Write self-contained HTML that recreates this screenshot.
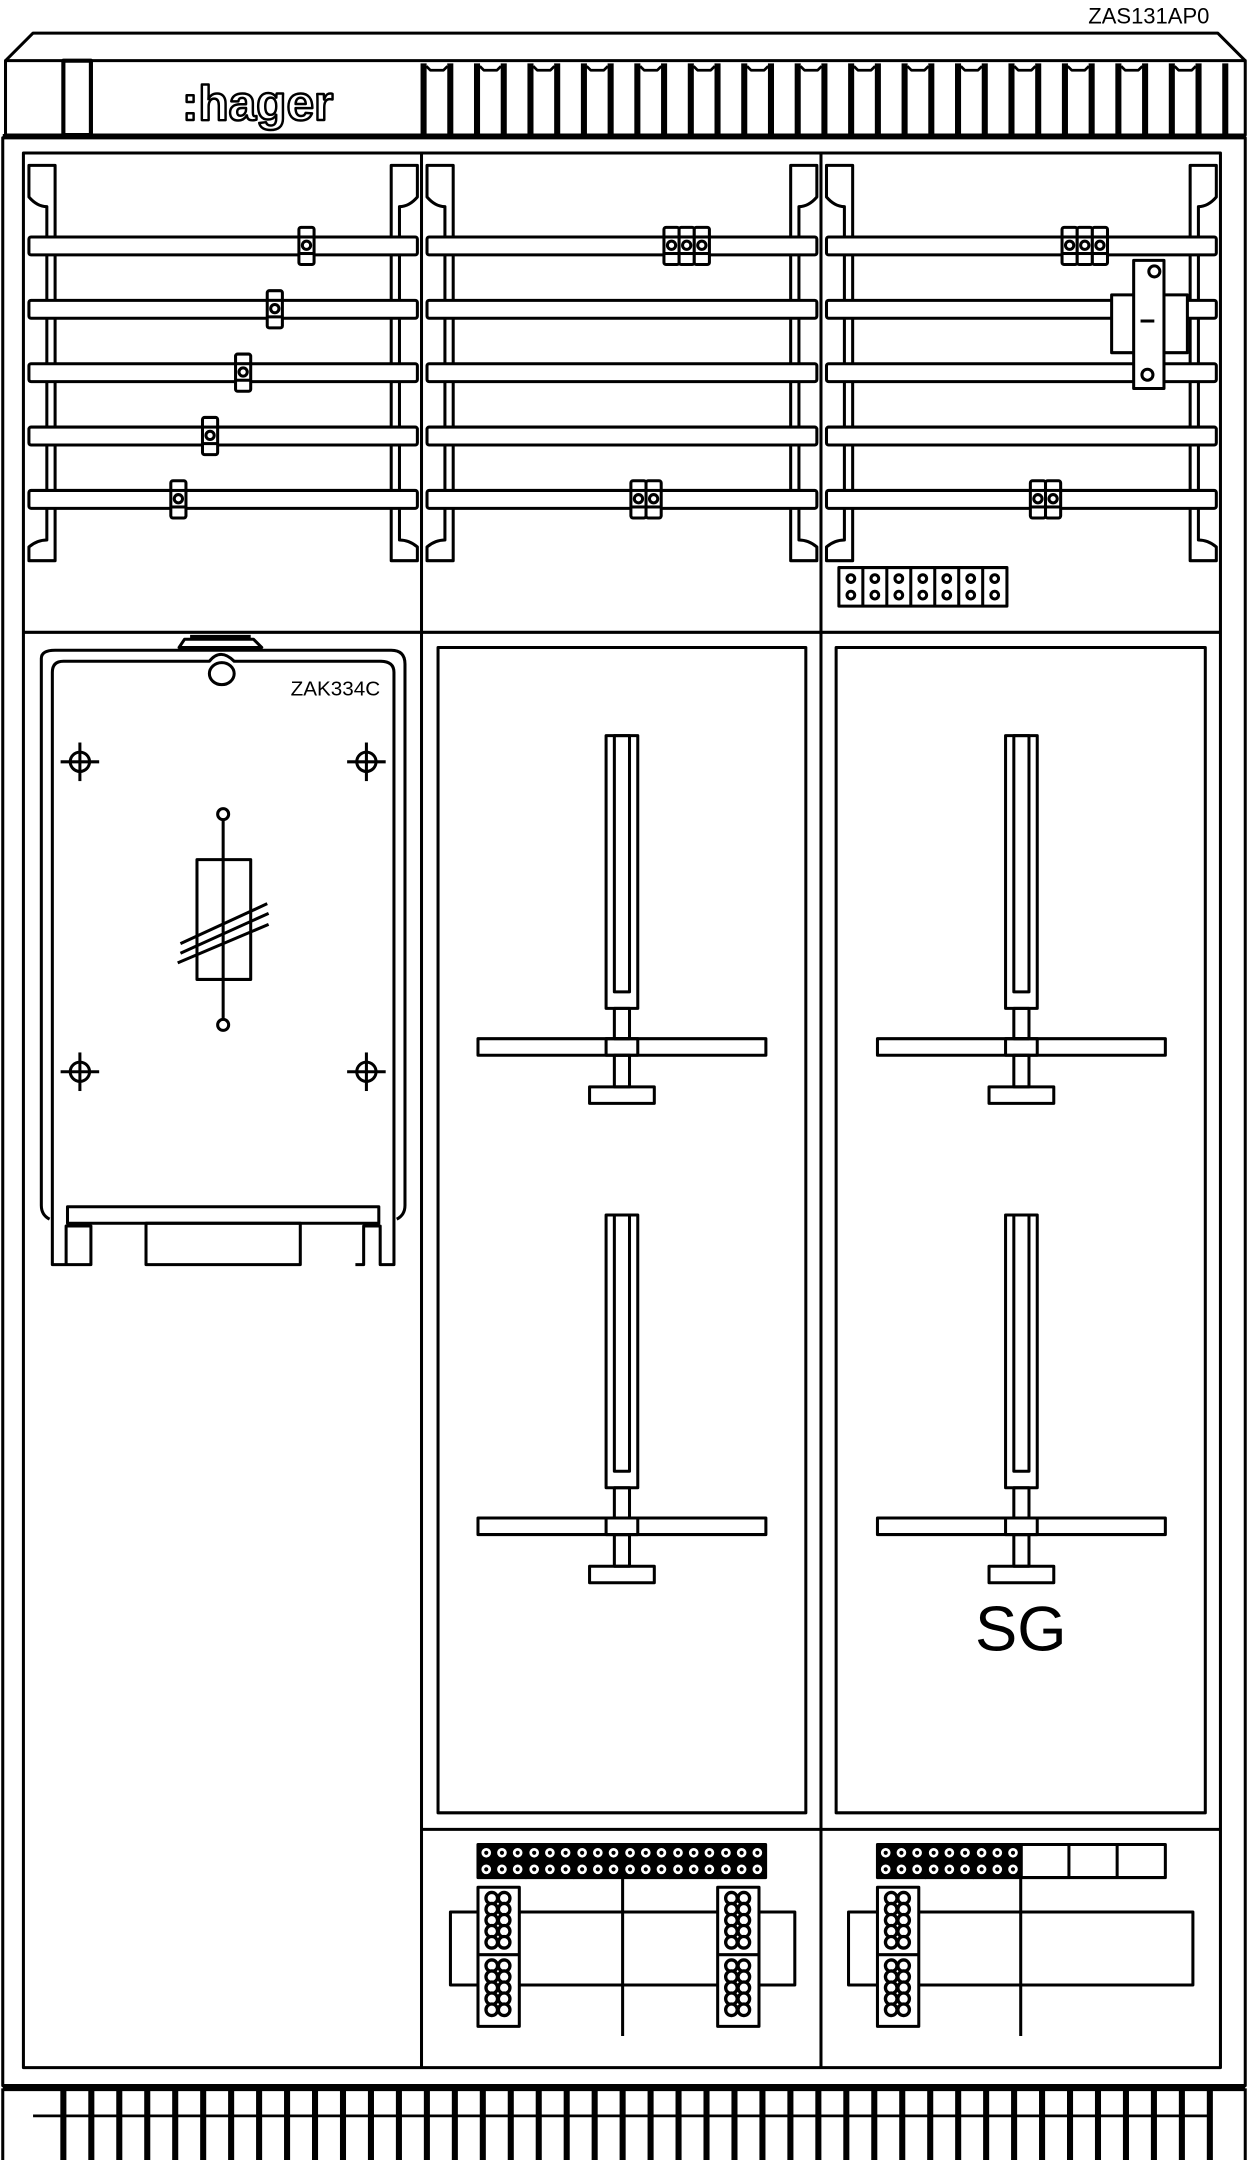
<!DOCTYPE html>
<html><head><meta charset="utf-8"><style>
html,body{margin:0;padding:0;background:#fff;}
svg{display:block;}
text{font-family:"Liberation Sans",sans-serif;}
</style></head><body>
<svg id="s" width="1248" height="2160" viewBox="0 0 906 1568" xmlns="http://www.w3.org/2000/svg" fill="none" stroke="#000" stroke-width="2.2" stroke-linejoin="round">
<text x="878" y="17" font-size="16" text-anchor="end" stroke="none" fill="#000">ZAS131AP0</text>
<path d="M4,44 L24,24 L884,24 L904,44"/>
<rect x="4" y="44" width="900" height="54"/>
<line x1="2" y1="99" x2="904" y2="99" stroke-width="3.5"/>
<rect x="46" y="44" width="20" height="54" stroke-width="3"/>
<text x="187" y="87" font-size="36" font-weight="bold" text-anchor="middle" style="fill:#fff;stroke:#000;stroke-width:1.8">:hager</text>
<g id="hb"></g>
<rect x="2" y="100" width="902" height="1414"/>
<rect x="17" y="111" width="869" height="1390"/>
<line x1="306" y1="111" x2="306" y2="1501"/>
<line x1="596" y1="111" x2="596" y2="1501"/>
<line x1="17" y1="459" x2="886" y2="459"/>
<line x1="306" y1="1328" x2="886" y2="1328"/>
<g id="rails"></g>
<rect x="807" y="214" width="55" height="42" fill="#fff"/>
<rect x="823" y="189" width="22" height="93" fill="#fff"/>
<circle cx="838" cy="197" r="4"/><circle cx="833" cy="272" r="4"/>
<line x1="828" y1="233" x2="838" y2="233"/>
<g id="ts"></g>
<path d="M30,478 Q30,472 40,472 L284,472 Q294,472 294,482 L294,875 Q294,882 288,885 M30,478 L30,875 Q30,882 36,885"/>
<path d="M38,488 Q38,480 46,480 L152,480 Q160,470 170,480 L276,480 Q286,480 286,488 L286,918 L276,918 L276,890 L264,890 L264,918 L258,918 M38,488 L38,918 L48,918 L48,890 L66,890 L66,918 L48,918"/>
<rect x="49" y="876" width="226" height="12"/>
<rect x="106" y="888" width="112" height="30"/>
<path d="M130,470 L134,464 L184,464 L190,470 Z"/>
<line x1="138" y1="462" x2="182" y2="462"/>
<ellipse cx="161" cy="489" rx="9" ry="8"/>
<text x="276" y="505" font-size="15" text-anchor="end" stroke="none" fill="#000">ZAK334C</text>
<g id="cross"></g>
<line x1="162" y1="596" x2="162" y2="740"/>
<ellipse cx="162" cy="591" rx="4" ry="4"/><ellipse cx="162" cy="744" rx="4" ry="4"/>
<rect x="143" y="624" width="39" height="87"/>
<line x1="131" y1="685" x2="194" y2="656"/>
<line x1="131" y1="692" x2="195" y2="663"/>
<line x1="129" y1="699" x2="195" y2="671"/>
<rect x="318" y="470" width="267" height="846"/>
<rect x="607" y="470" width="268" height="846"/>
<g id="meters"></g>
<text x="741" y="1198" font-size="46" text-anchor="middle" stroke="none" fill="#000">SG</text>
<g id="bottom"></g>
<line x1="2" y1="1516" x2="904" y2="1516" stroke-width="4"/>
<line x1="24" y1="1536" x2="880" y2="1536" stroke-width="2"/>
<g id="base"></g>
<line x1="2" y1="1516" x2="2" y2="1568"/><line x1="904" y1="1516" x2="904" y2="1568"/>
</svg>
<script>
const NS="http://www.w3.org/2000/svg";
function el(p,t,a){const e=document.createElementNS(NS,t);for(const k in a)e.setAttribute(k,a[k]);document.getElementById(p).appendChild(e);return e;}
let i=0;
for(let x=307.5;x<=890;x+=19.4,i++){el("hb","line",{x1:x,y1:46,x2:x,y2:98,"stroke-width":4.4});
  if(i%2==0&&x+19.4<890){el("hb","path",{d:`M${x+2},48 L${x+5},51 L${x+14.4},51 L${x+17.4},48`,"stroke-width":2});}}
const cols=[[21,303],[310,593],[600,883]];
const ry=[178,224,270,316,362];
cols.forEach(c=>{
  el("rails","path",{d:`M${c[0]},120 L${c[0]+19},120 L${c[0]+19},407 L${c[0]},407 L${c[0]},397 Q${c[0]+6},392 ${c[0]+13},392 L${c[0]+13},150 Q${c[0]+6},150 ${c[0]},143 Z`});
  el("rails","path",{d:`M${c[1]},120 L${c[1]-19},120 L${c[1]-19},407 L${c[1]},407 L${c[1]},397 Q${c[1]-6},392 ${c[1]-13},392 L${c[1]-13},150 Q${c[1]-6},150 ${c[1]},143 Z`});
  ry.forEach(y=>el("rails","rect",{x:c[0],y:y-6,width:c[1]-c[0],height:13,rx:1.5,fill:"#fff"}));
});
function clip(x,y,n){for(let i=0;i<n;i++){el("rails","rect",{x:x+i*11,y:y-13,width:11,height:27,rx:1.5,fill:"#fff"});el("rails","circle",{cx:x+i*11+5.5,cy:y,r:3});el("rails","line",{x1:x+i*11,y1:y-6,x2:x+i*11+11,y2:y-6});el("rails","line",{x1:x+i*11,y1:y+6,x2:x+i*11+11,y2:y+6});}}
clip(217,178,1);clip(194,224,1);clip(171,270,1);clip(147,316,1);clip(124,362,1);
clip(482,178,3);clip(458,362,2);clip(771,178,3);clip(748,362,2);
el("ts","rect",{x:609,y:412,width:122,height:28});
for(let i=0;i<7;i++){const x=609+i*17.4;if(i)el("ts","line",{x1:x,y1:412,x2:x,y2:440});el("ts","circle",{cx:x+8.7,cy:420,r:2.8});el("ts","circle",{cx:x+8.7,cy:432,r:2.8});}
[[58,553],[266,553],[58,778],[266,778]].forEach(p=>{el("cross","circle",{cx:p[0],cy:p[1],r:7});el("cross","line",{x1:p[0]-14,y1:p[1],x2:p[0]+14,y2:p[1]});el("cross","line",{x1:p[0],y1:p[1]-14,x2:p[0],y2:p[1]+14});});
[[451,0],[741,0],[451,348],[741,348]].forEach(m=>{const c=m[0],o=m[1];
  el("meters","rect",{x:c-11,y:534+o,width:23,height:198});
  el("meters","rect",{x:c-5,y:534+o,width:11,height:186});
  el("meters","rect",{x:c-5,y:732+o,width:11,height:22});
  el("meters","rect",{x:c-104,y:754+o,width:209,height:12});
  el("meters","rect",{x:c-11,y:754+o,width:23,height:12});
  el("meters","rect",{x:c-5,y:766+o,width:11,height:23});
  el("meters","rect",{x:c-23,y:789+o,width:47,height:12});
});
function tb(x,y,n){const w=11.6*3;for(let i=0;i<n;i++){const bx=x+i*w;el("bottom","rect",{x:bx,y:y,width:w,height:24,fill:"#000"});for(let j=0;j<3;j++)for(let k=0;k<2;k++){el("bottom","circle",{cx:bx+6+j*11.4,cy:y+6+k*12,r:4,fill:"#fff",stroke:"#000","stroke-width":1});el("bottom","circle",{cx:bx+6+j*11.4,cy:y+6+k*12,r:1.5,fill:"#000",stroke:"none"});}}}
function vb(x,y){el("bottom","rect",{x:x,y:y,width:30,height:101,fill:"#fff"});el("bottom","line",{x1:x,y1:y+49,x2:x+30,y2:y+49});for(let j=0;j<2;j++)for(let k=0;k<2;k++)for(let r=0;r<5;r++){const cy=y+8+r*8+k*49;el("bottom","circle",{cx:x+10+j*9,cy:cy,r:4.2,fill:"#fff","stroke-width":2.4});}}
tb(347,1339,6);
el("bottom","rect",{x:327,y:1388,width:250,height:53});
el("bottom","line",{x1:452,y1:1363,x2:452,y2:1478});
vb(347,1370);vb(521,1370);
tb(637,1339,3);
el("bottom","rect",{x:741,y:1339,width:105,height:24});
el("bottom","line",{x1:776,y1:1339,x2:776,y2:1363});el("bottom","line",{x1:811,y1:1339,x2:811,y2:1363});
el("bottom","rect",{x:616,y:1388,width:250,height:53});
el("bottom","line",{x1:741,y1:1363,x2:741,y2:1478});
vb(637,1370);
for(let x=46;x<=882;x+=20.3){el("base","line",{x1:x,y1:1516,x2:x,y2:1568,"stroke-width":4.4});}
</script>
</body></html>
